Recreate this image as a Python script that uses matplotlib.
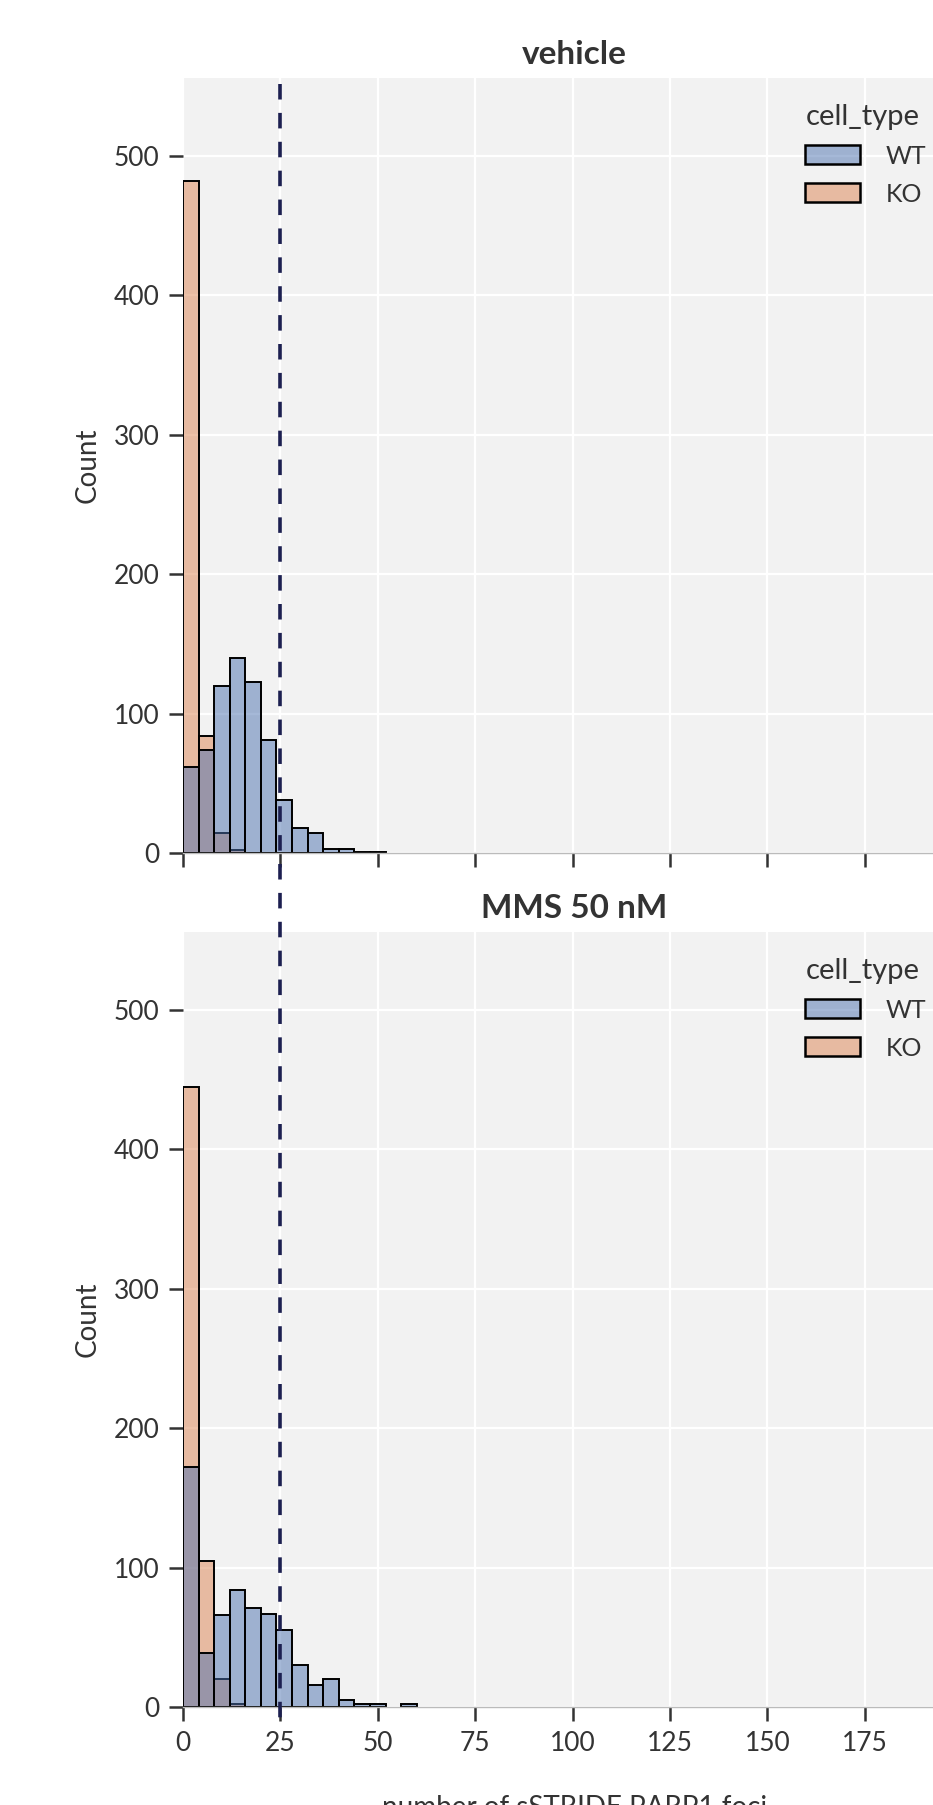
import numpy as np
import matplotlib
matplotlib.use("Agg")
import matplotlib.pyplot as plt
from matplotlib.patches import Patch
from matplotlib.lines import Line2D
from matplotlib.transforms import blended_transform_factory

# histogram bins (number of foci), bin width 4
bin_edges = [0, 4, 8, 12, 16, 20, 24, 28, 32, 36, 40, 44, 48, 52, 56, 60]

# counts per bin
vehicle_wt = [62, 74, 120, 140, 123, 81, 38, 18, 14, 3, 3, 1, 1, 0, 0]
vehicle_ko = [482, 84, 14, 2, 0, 0, 0, 0, 0, 0, 0, 0, 0, 0, 0]
mms_wt = [172, 39, 66, 84, 71, 67, 55, 30, 16, 20, 5, 2, 2, 0, 2]
mms_ko = [445, 105, 20, 2, 0, 0, 0, 0, 0, 0, 0, 0, 0, 0, 0]

panels = ["vehicle", "MMS 50 nM"]
hue_labels = ["WT", "KO"]
x_ticks = [0, 25, 50, 75, 100, 125, 150, 175, 200]
y_ticks = [0, 100, 200, 300, 400, 500]
threshold = 25

colors = {"WT": "#4C72B0", "KO": "#DD8452"}
text_color = "#333333"

plt.rcParams["font.family"] = ["Lato", "DejaVu Sans"]

fig = plt.figure(figsize=(9.33, 18.05), dpi=100)
W, H = 933, 1805
ax_left, ax_right = 183 / W, 966 / W
boxes = [(78, 853), (932, 1707)]
axes = []
for top, bottom in boxes:
    ax = fig.add_axes([ax_left, 1 - bottom / H, ax_right - ax_left, (bottom - top) / H])
    axes.append(ax)

data = [(vehicle_wt, vehicle_ko), (mms_wt, mms_ko)]

for i, (ax, title, (wt, ko)) in enumerate(zip(axes, panels, data)):
    ax.set_facecolor("#f2f2f2")
    ax.grid(True, color="white", linewidth=1.6)
    ax.set_axisbelow(True)

    # KO first, WT layered on top (seaborn style)
    for label, counts in (("KO", ko), ("WT", wt)):
        left = [e for e, c in zip(bin_edges[:-1], counts) if c > 0]
        h = [c for c in counts if c > 0]
        ax.bar(left, h, width=4, align="edge",
               color=matplotlib.colors.to_rgba(colors[label], 0.5),
               edgecolor="black", linewidth=1.4)

    ax.set_xlim(0, 201)
    ax.set_ylim(0, 556)
    ax.set_xticks(x_ticks)
    ax.set_yticks(y_ticks)
    for side in ("top", "right", "left"):
        ax.spines[side].set_visible(False)
    ax.spines["bottom"].set_color("#bbbbbb")
    ax.spines["bottom"].set_linewidth(1.0)
    ax.tick_params(axis="both", length=10, width=1.8, color=text_color,
                   labelsize=19, labelcolor=text_color, pad=7)
    ax.set_ylabel("Count", fontsize=20, color=text_color, labelpad=9)
    ax.set_title(title, fontsize=24, fontweight="bold", color=text_color, pad=10)
    if i == 0:
        ax.tick_params(axis="x", labelbottom=False)
    else:
        ax.set_xlabel("number of sSTRIDE PARP1 foci", fontsize=20,
                      color=text_color, labelpad=28)

    handles = [Patch(facecolor=matplotlib.colors.to_rgba(colors[l], 0.5),
                     edgecolor="black", linewidth=1.8, label=l) for l in hue_labels]
    leg = ax.legend(handles=handles, title="cell_type", loc="upper left",
                    bbox_to_anchor=(0.795, 0.967), frameon=False,
                    fontsize=18, title_fontsize=21, borderaxespad=0,
                    borderpad=0, handlelength=2.2, handleheight=0.8,
                    handletextpad=1.0, labelspacing=0.6)
    leg._legend_box.align = "left"
    for t in leg.get_texts():
        t.set_color(text_color)
    leg.get_title().set_color(text_color)

# dashed threshold line spanning both panels
trans = blended_transform_factory(axes[0].transData, fig.transFigure)
fig.add_artist(Line2D([threshold, threshold], [1 - 84 / H, 1 - 1722 / H],
                      transform=trans, color="#1c1f50", linewidth=2.6,
                      linestyle=(0, (4.3, 3.7))))

fig.savefig("out.png", dpi=100)
